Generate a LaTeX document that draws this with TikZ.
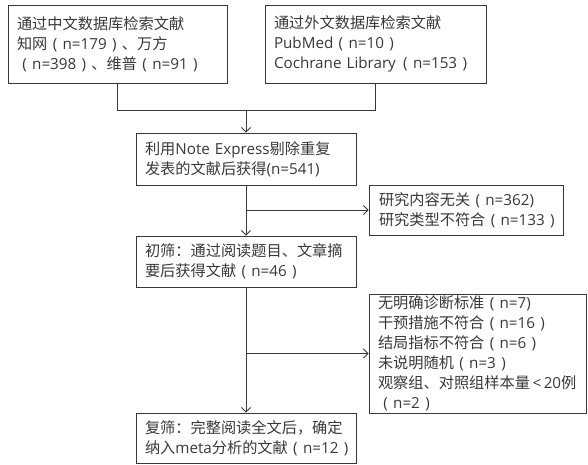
\documentclass[tikz,border=0pt]{standalone}
\usepackage{fontspec}
\setmainfont{Noto Sans CJK SC}
\newfontfamily\latfont{Open Sans}
\newcommand\la[1]{{\latfont #1}}
\newcommand\LP{\makebox[1em]{\latfont(}}
\newcommand\RP{\makebox[1em]{\latfont)}}
\usetikzlibrary{arrows.meta}
\definecolor{ink}{HTML}{383838}
\begin{document}
\begin{tikzpicture}[x=1pt,y=-1pt,
  box/.style={draw=ink, line width=0.9pt, text=ink, align=left, inner xsep=9pt, inner ysep=0pt,
    font=\fontsize{15.2}{20}\selectfont, anchor=center},
  link/.style={draw=ink, line width=0.9pt},
  arr/.style={link, -{Straight Barb[length=4.5pt,width=9pt]}}]
\useasboundingbox (0,0) rectangle (588,465);
\node[box, text width=201pt, minimum height=78pt] (a) at (117.5,44)
  {通过中文数据库检索文献\\知网\LP\la{n=179}\RP、万方\\\LP\la{n=398}\RP、维普\LP\la{n=91}\RP};
\node[box, text width=203pt, minimum height=78pt] (b) at (375.5,44)
  {通过外文数据库检索文献\\\la{PubMed}\LP\la{n=10}\RP\\\mbox{\la{Cochrane Library}\hspace{2pt}\LP\la{n=153}\RP}};
\node[box, text width=202pt, minimum height=52pt] (c) at (246,159)
  {利用\la{Note Express}剔除重复\\发表的文献后获得\la{(n=541)}};
\node[box, inner xsep=10pt, text width=174pt, minimum height=50pt] (d) at (466,210)
  {研究内容无关\LP\la{n=362)}\\研究类型不符合\LP\la{n=133}\RP};
\node[box, text width=202pt, minimum height=51pt] (e) at (246,261.5)
  {初筛：通过阅读题目、文章摘\\要后获得文献\LP\la{n=46}\RP};
\node[box, inner xsep=9pt, text width=199pt, minimum height=119pt] (f) at (477.5,353.5)
  {无明确诊断标准\LP\la{n=7)}\\干预措施不符合\LP\la{n=16}\RP\\结局指标不符合\LP\la{n=6}\RP\\未说明随机\LP\la{n=3}\RP\\\mbox{观察组、对照组样本量\la{\,<\,20}例}\\\LP\la{n=2}\RP};
\node[box, text width=202pt, minimum height=50pt] (g) at (246,438)
  {复筛：完整阅读全文后，确定\\纳入\la{meta}分析的文献\LP\la{n=12}\RP};
\coordinate (ja) at (117.5,110);
\coordinate (jb) at (375.5,110);
\coordinate (jc) at (246,110);
\draw[link] (a.south) -- (ja) -- (jb) -- (b.south);
\draw[arr] (jc) -- (c.north);
\draw[arr] (c.south) -- (e.north);
\draw[arr] (c.south |- d.west) -- (d.west);
\draw[arr] (e.south) -- (g.north);
\draw[arr] (e.south |- f.west) -- (f.west);
\end{tikzpicture}
\end{document}
